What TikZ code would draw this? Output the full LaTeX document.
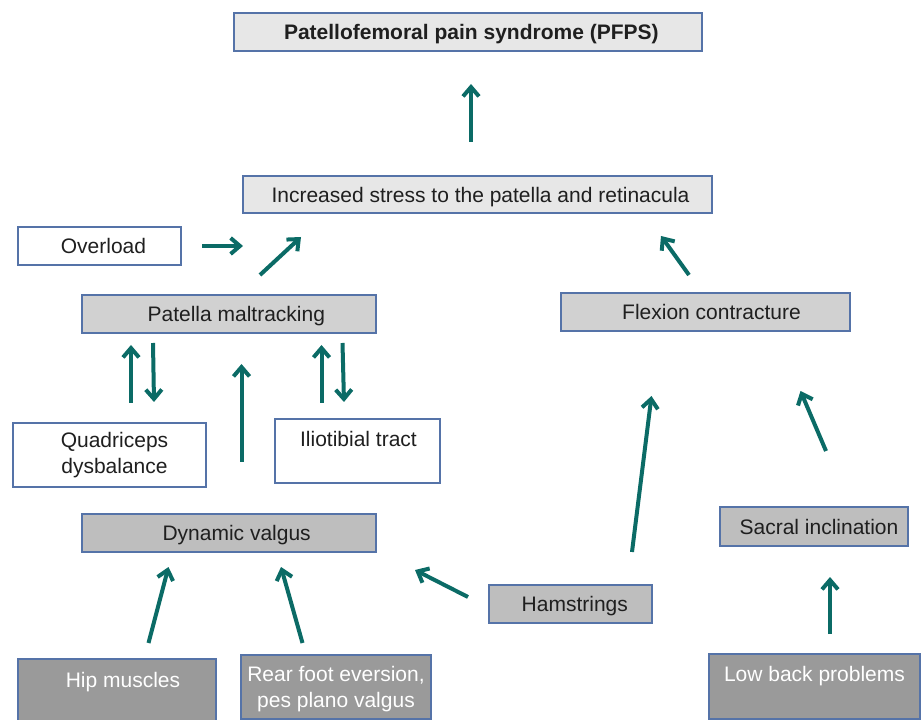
\documentclass[tikz,border=0pt]{standalone}
\usepackage{fontspec}
\setmainfont{Liberation Sans}
\usetikzlibrary{arrows.meta}
\definecolor{arrowteal}{HTML}{0B6B66}
\definecolor{boxblue}{HTML}{5573A8}
\definecolor{fillA}{HTML}{E7E7E7}
\definecolor{fillB}{HTML}{D1D1D1}
\definecolor{fillC}{HTML}{BEBEBE}
\definecolor{fillD}{HTML}{9A9A9A}
\begin{document}
\begin{tikzpicture}[x=0.75pt,y=-0.75pt,
  box/.style={draw=boxblue, line width=0.9pt, inner sep=0pt, align=center,
    font=\fontsize{15.75}{19.5}\selectfont, text=black!88},
  sz/.style 2 args={minimum width=#1*0.75pt, minimum height=#2*0.75pt},
  one/.style={text height=11.3pt, text depth=0pt},
  top/.style={text height=11.3pt, text depth=#1},
  dark/.style={fill=fillD, text=white},
  arr/.style={draw=arrowteal, line width=3pt, -{Straight Barb[length=7pt,width=12pt]}}]
\useasboundingbox (0,0) rectangle (922,720);

% boxes
\node[box, one, fill=fillA, sz={468}{38}] (pfps) at (468,32) {\hspace*{5pt}\bfseries Patellofemoral pain syndrome (PFPS)};
\node[box, one, fill=fillA, sz={469}{37}] (stress) at (477.5,194.5) {\hspace*{4.5pt}Increased stress to the patella and retinacula};
\node[box, one, fill=white, sz={163}{38}] (overload) at (99.5,246) {\hspace*{6pt}Overload};
\node[box, one, fill=fillB, sz={294}{38}] (patella) at (229,314) {\hspace*{11pt}Patella maltracking};
\node[box, one, fill=fillB, sz={289}{38}] (flexion) at (705.5,312) {\hspace*{9pt}Flexion contracture};
\node[box, fill=white, sz={193}{64}] (quad) at (109.5,455) {\hspace*{7.5pt}Quadriceps\\\hspace*{7.5pt}dysbalance};
\node[box, top=18pt, fill=white, sz={165}{64}] (itb) at (357.5,451) {\hspace*{1.5pt}Iliotibial tract};
\node[box, one, fill=fillC, sz={294}{38}] (valgus) at (229,533) {\hspace*{11.5pt}Dynamic valgus};
\node[box, one, fill=fillC, sz={163}{38}] (hams) at (570.5,604) {\hspace*{6.5pt}Hamstrings};
\node[box, one, fill=fillC, sz={188}{39}] (sacral) at (814,526.5) {\hspace*{7.5pt}Sacral inclination};
\node[box, top=17.2pt, dark, sz={198}{64}] (hip) at (117,691) {\hspace*{9pt}Hip muscles};
\node[box, dark, sz={190}{64}] (rear) at (336,687) {\rule{0pt}{15.1pt}Rear foot eversion,\\pes plano valgus};
\node[box, top=18.8pt, dark, sz={211}{65}] (lowback) at (814.5,686.5) {Low back problems};

% arrow end points
\coordinate (a1s) at (471,142); \coordinate (a1e) at (471,84);
\coordinate (a2s) at (202,246); \coordinate (a2e) at (243,246);
\coordinate (a3s) at (260,275); \coordinate (a3e) at (301,237);
\coordinate (a4s) at (689,275); \coordinate (a4e) at (661,236);
\coordinate (a5s) at (131,403); \coordinate (a5e) at (131,345);
\coordinate (a6s) at (153,343); \coordinate (a6e) at (154,402);
\coordinate (a7s) at (241.5,462); \coordinate (a7e) at (241.5,364);
\coordinate (a8s) at (321.5,403); \coordinate (a8e) at (321.5,345);
\coordinate (a9s) at (342.5,343); \coordinate (a9e) at (344,402);
\coordinate (a10s) at (632,552); \coordinate (a10e) at (651.5,396);
\coordinate (a11s) at (826,451); \coordinate (a11e) at (800.5,391);
\coordinate (a12s) at (468,597); \coordinate (a12e) at (415,570);
\coordinate (a13s) at (148.5,643); \coordinate (a13e) at (168.5,567);
\coordinate (a14s) at (302.5,643); \coordinate (a14e) at (281,567);
\coordinate (a15s) at (830,634); \coordinate (a15e) at (830,577);

\foreach \i in {1,...,15} \draw[arr] (a\i s) -- (a\i e);
\end{tikzpicture}
\end{document}
